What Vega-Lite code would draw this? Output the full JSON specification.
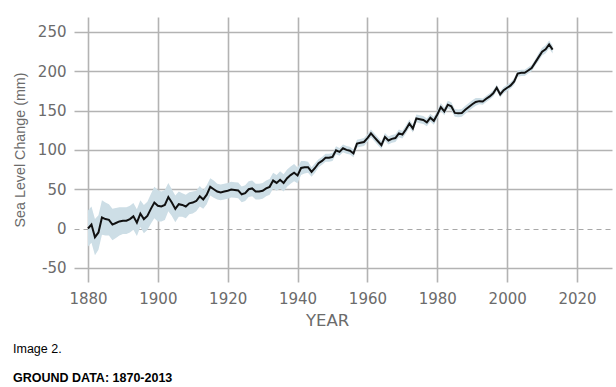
{
  "$schema": "https://vega.github.io/schema/vega-lite/v6.json",
  "width": 538,
  "height": 265,
  "autosize": "none",
  "padding": {"left": 74, "top": 17, "right": 4, "bottom": 105},
  "background": "white",
  "config": {
    "view": {"stroke": null},
    "axis": {
      "labelFont": "DejaVu Sans",
      "labelFontSize": 15,
      "labelColor": "#6b6b6b",
      "titleColor": "#6b6b6b",
      "titleFontWeight": "normal",
      "domain": false,
      "ticks": false,
      "gridColor": "#b3b3b3",
      "gridWidth": 1.6
    }
  },
  "title": {
    "text": "Image 2.",
    "subtitle": "GROUND DATA: 1870-2013",
    "orient": "bottom",
    "anchor": "start",
    "frame": "bounds",
    "font": "Liberation Sans",
    "fontSize": 12.5,
    "fontWeight": "normal",
    "color": "#000000",
    "subtitleFont": "Liberation Sans",
    "subtitleFontSize": 12.5,
    "subtitleFontWeight": "bold",
    "subtitleColor": "#000000",
    "subtitlePadding": 17,
    "offset": 14
  },
  "data": {
    "values": [
      {"year": 1880, "v": 0, "lo": -23, "hi": 23},
      {"year": 1881, "v": 5, "lo": -18, "hi": 28},
      {"year": 1882, "v": -11, "lo": -34, "hi": 12},
      {"year": 1883, "v": -5, "lo": -27, "hi": 17},
      {"year": 1884, "v": 14, "lo": -8, "hi": 36},
      {"year": 1885, "v": 12, "lo": -9, "hi": 33},
      {"year": 1886, "v": 11, "lo": -9, "hi": 31},
      {"year": 1887, "v": 5, "lo": -15, "hi": 25},
      {"year": 1888, "v": 7, "lo": -12, "hi": 26},
      {"year": 1889, "v": 9, "lo": -9, "hi": 27},
      {"year": 1890, "v": 10, "lo": -7, "hi": 27},
      {"year": 1891, "v": 10, "lo": -7, "hi": 27},
      {"year": 1892, "v": 12, "lo": -5, "hi": 29},
      {"year": 1893, "v": 15.5, "lo": -1.5, "hi": 32.5},
      {"year": 1894, "v": 7.5, "lo": -9.5, "hi": 24.5},
      {"year": 1895, "v": 19, "lo": 2, "hi": 36},
      {"year": 1896, "v": 12, "lo": -6, "hi": 30},
      {"year": 1897, "v": 16, "lo": -2, "hi": 34},
      {"year": 1898, "v": 25, "lo": 6, "hi": 44},
      {"year": 1899, "v": 33, "lo": 13, "hi": 53},
      {"year": 1900, "v": 29, "lo": 9, "hi": 49},
      {"year": 1901, "v": 28, "lo": 9, "hi": 47},
      {"year": 1902, "v": 30, "lo": 11, "hi": 49},
      {"year": 1903, "v": 40, "lo": 22, "hi": 58},
      {"year": 1904, "v": 33, "lo": 16, "hi": 50},
      {"year": 1905, "v": 25, "lo": 8, "hi": 42},
      {"year": 1906, "v": 31, "lo": 15, "hi": 47},
      {"year": 1907, "v": 30, "lo": 15, "hi": 45},
      {"year": 1908, "v": 28, "lo": 13, "hi": 43},
      {"year": 1909, "v": 32, "lo": 18, "hi": 46},
      {"year": 1910, "v": 33, "lo": 19, "hi": 47},
      {"year": 1911, "v": 35, "lo": 22, "hi": 48},
      {"year": 1912, "v": 41, "lo": 28, "hi": 54},
      {"year": 1913, "v": 37, "lo": 25, "hi": 49},
      {"year": 1914, "v": 43, "lo": 31, "hi": 55},
      {"year": 1915, "v": 53, "lo": 42, "hi": 64},
      {"year": 1916, "v": 50, "lo": 39, "hi": 61},
      {"year": 1917, "v": 47, "lo": 37, "hi": 57},
      {"year": 1918, "v": 46, "lo": 36, "hi": 56},
      {"year": 1919, "v": 47, "lo": 37, "hi": 57},
      {"year": 1920, "v": 48, "lo": 38, "hi": 58},
      {"year": 1921, "v": 49.5, "lo": 39.5, "hi": 59.5},
      {"year": 1922, "v": 49, "lo": 39, "hi": 59},
      {"year": 1923, "v": 48.5, "lo": 38.5, "hi": 58.5},
      {"year": 1924, "v": 43.5, "lo": 33.5, "hi": 53.5},
      {"year": 1925, "v": 45, "lo": 35, "hi": 55},
      {"year": 1926, "v": 50, "lo": 40, "hi": 60},
      {"year": 1927, "v": 51, "lo": 41, "hi": 61},
      {"year": 1928, "v": 47, "lo": 37, "hi": 57},
      {"year": 1929, "v": 47, "lo": 37, "hi": 57},
      {"year": 1930, "v": 48, "lo": 38, "hi": 58},
      {"year": 1931, "v": 51, "lo": 41, "hi": 61},
      {"year": 1932, "v": 53, "lo": 43, "hi": 63},
      {"year": 1933, "v": 61, "lo": 51, "hi": 71},
      {"year": 1934, "v": 58, "lo": 48, "hi": 68},
      {"year": 1935, "v": 62, "lo": 51, "hi": 73},
      {"year": 1936, "v": 58, "lo": 47, "hi": 69},
      {"year": 1937, "v": 64, "lo": 53, "hi": 75},
      {"year": 1938, "v": 68, "lo": 57, "hi": 79},
      {"year": 1939, "v": 71, "lo": 60, "hi": 82},
      {"year": 1940, "v": 67.5, "lo": 57.5, "hi": 77.5},
      {"year": 1941, "v": 77, "lo": 68, "hi": 86},
      {"year": 1942, "v": 78, "lo": 70, "hi": 86},
      {"year": 1943, "v": 78, "lo": 71, "hi": 85},
      {"year": 1944, "v": 72, "lo": 66, "hi": 78},
      {"year": 1945, "v": 77, "lo": 71, "hi": 83},
      {"year": 1946, "v": 83, "lo": 78, "hi": 88},
      {"year": 1947, "v": 86, "lo": 81, "hi": 91},
      {"year": 1948, "v": 90, "lo": 85, "hi": 95},
      {"year": 1949, "v": 90, "lo": 85, "hi": 95},
      {"year": 1950, "v": 91, "lo": 86, "hi": 96},
      {"year": 1951, "v": 99.5, "lo": 94.5, "hi": 104.5},
      {"year": 1952, "v": 97.5, "lo": 92.5, "hi": 102.5},
      {"year": 1953, "v": 102, "lo": 97, "hi": 107},
      {"year": 1954, "v": 100, "lo": 95, "hi": 105},
      {"year": 1955, "v": 99, "lo": 94, "hi": 104},
      {"year": 1956, "v": 95.5, "lo": 90.5, "hi": 100.5},
      {"year": 1957, "v": 108, "lo": 103, "hi": 113},
      {"year": 1958, "v": 109, "lo": 104, "hi": 114},
      {"year": 1959, "v": 110, "lo": 105, "hi": 115},
      {"year": 1960, "v": 115, "lo": 110, "hi": 120},
      {"year": 1961, "v": 121, "lo": 116, "hi": 126},
      {"year": 1962, "v": 116, "lo": 111, "hi": 121},
      {"year": 1963, "v": 111, "lo": 106, "hi": 116},
      {"year": 1964, "v": 106, "lo": 101, "hi": 111},
      {"year": 1965, "v": 116.5, "lo": 111.5, "hi": 121.5},
      {"year": 1966, "v": 112, "lo": 107, "hi": 117},
      {"year": 1967, "v": 114, "lo": 109, "hi": 119},
      {"year": 1968, "v": 115, "lo": 110, "hi": 120},
      {"year": 1969, "v": 121, "lo": 116, "hi": 126},
      {"year": 1970, "v": 119.5, "lo": 114.5, "hi": 124.5},
      {"year": 1971, "v": 126, "lo": 121, "hi": 131},
      {"year": 1972, "v": 133.5, "lo": 128.5, "hi": 138.5},
      {"year": 1973, "v": 127, "lo": 122, "hi": 132},
      {"year": 1974, "v": 140, "lo": 135, "hi": 145},
      {"year": 1975, "v": 139, "lo": 134, "hi": 144},
      {"year": 1976, "v": 138, "lo": 133, "hi": 143},
      {"year": 1977, "v": 135, "lo": 130, "hi": 140},
      {"year": 1978, "v": 141, "lo": 136, "hi": 146},
      {"year": 1979, "v": 137, "lo": 132, "hi": 142},
      {"year": 1980, "v": 145, "lo": 140, "hi": 150},
      {"year": 1981, "v": 154.5, "lo": 149.5, "hi": 159.5},
      {"year": 1982, "v": 149, "lo": 144, "hi": 154},
      {"year": 1983, "v": 157.5, "lo": 152.5, "hi": 162.5},
      {"year": 1984, "v": 155.5, "lo": 150.5, "hi": 160.5},
      {"year": 1985, "v": 147, "lo": 142, "hi": 152},
      {"year": 1986, "v": 146.5, "lo": 141.5, "hi": 151.5},
      {"year": 1987, "v": 147, "lo": 142, "hi": 152},
      {"year": 1988, "v": 151, "lo": 146, "hi": 156},
      {"year": 1989, "v": 154.5, "lo": 149.5, "hi": 159.5},
      {"year": 1990, "v": 158, "lo": 153, "hi": 163},
      {"year": 1991, "v": 161, "lo": 156, "hi": 166},
      {"year": 1992, "v": 162, "lo": 158, "hi": 166},
      {"year": 1993, "v": 161.5, "lo": 157.5, "hi": 165.5},
      {"year": 1994, "v": 165, "lo": 161, "hi": 169},
      {"year": 1995, "v": 168, "lo": 164, "hi": 172},
      {"year": 1996, "v": 172, "lo": 168, "hi": 176},
      {"year": 1997, "v": 179, "lo": 175, "hi": 183},
      {"year": 1998, "v": 170.5, "lo": 166.5, "hi": 174.5},
      {"year": 1999, "v": 176, "lo": 172, "hi": 180},
      {"year": 2000, "v": 179, "lo": 175, "hi": 183},
      {"year": 2001, "v": 182, "lo": 178, "hi": 186},
      {"year": 2002, "v": 187, "lo": 183, "hi": 191},
      {"year": 2003, "v": 197, "lo": 193, "hi": 201},
      {"year": 2004, "v": 198, "lo": 194, "hi": 202},
      {"year": 2005, "v": 198, "lo": 194, "hi": 202},
      {"year": 2006, "v": 201, "lo": 197, "hi": 205},
      {"year": 2007, "v": 204, "lo": 200, "hi": 208},
      {"year": 2008, "v": 211, "lo": 207, "hi": 215},
      {"year": 2009, "v": 218, "lo": 213, "hi": 223},
      {"year": 2010, "v": 225, "lo": 220, "hi": 230},
      {"year": 2011, "v": 228, "lo": 223, "hi": 233},
      {"year": 2012, "v": 234, "lo": 229, "hi": 239},
      {"year": 2013, "v": 227.5, "lo": 222.5, "hi": 232.5}
    ]
  },
  "encoding": {
    "x": {
      "field": "year",
      "type": "quantitative",
      "scale": {"domain": [1876, 2030], "nice": false, "zero": false},
      "axis": {
        "values": [1880, 1900, 1920, 1940, 1960, 1980, 2000, 2020],
        "format": "d",
        "labelPadding": 9,
        "title": "YEAR",
        "titleFont": "DejaVu Sans",
        "titleFontSize": 16.5,
        "titleX": 253,
        "titleY": 30,
        "titleBaseline": "top",
        "titleAlign": "center"
      }
    }
  },
  "layer": [
    {
      "mark": {"type": "area", "color": "#cddee6", "opacity": 1},
      "encoding": {
        "y": {
          "field": "lo",
          "type": "quantitative",
          "scale": {"domain": [-68, 269], "nice": false, "zero": false},
          "axis": {
            "values": [-50, 0, 50, 100, 150, 200, 250],
            "labelExpr": "replace(datum.label, '\u2212', '-')",
            "labelPadding": 8,
            "title": "Sea Level Change (mm)",
            "titleFont": "Liberation Sans",
            "titleFontSize": 14.3,
            "titleX": -50,
            "titleY": 132.5,
            "titleAngle": -90,
            "titleAlign": "center",
            "titleBaseline": "alphabetic",
            "gridDash": {"condition": {"test": "datum.value === 0", "value": [5, 4]}, "value": []},
            "gridWidth": {"condition": {"test": "datum.value === 0", "value": 1}, "value": 1.6},
            "gridColor": {"condition": {"test": "datum.value === 0", "value": "#a8a8a8"}, "value": "#b3b3b3"}
          }
        },
        "y2": {"field": "hi"}
      }
    },
    {
      "mark": {"type": "line", "color": "#111111", "strokeWidth": 2},
      "encoding": {
        "y": {"field": "v", "type": "quantitative"}
      }
    }
  ]
}
